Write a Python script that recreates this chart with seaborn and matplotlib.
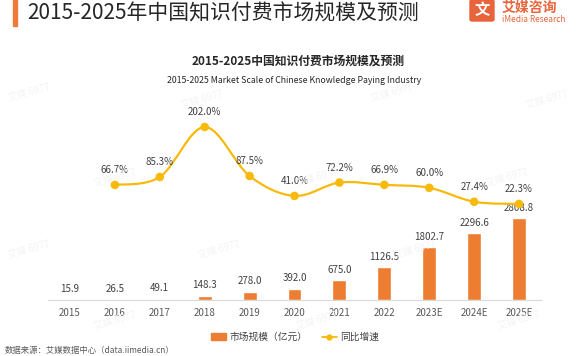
import numpy as np
import seaborn as sns
import matplotlib.pyplot as plt
from matplotlib.path import Path
from matplotlib.patches import PathPatch, Rectangle, FancyBboxPatch
from matplotlib.lines import Line2D
from matplotlib.patches import Patch

years = ['2015', '2016', '2017', '2018', '2019', '2020', '2021', '2022', '2023E', '2024E', '2025E']
market = [15.9, 26.5, 49.1, 148.3, 278.0, 392.0, 675.0, 1126.5, 1802.7, 2296.6, 2808.8]
growth_years = years[1:]
growth = [66.7, 85.3, 202.0, 87.5, 41.0, 72.2, 66.9, 60.0, 27.4, 22.3]

bar_color = '#ED7D31'
line_color = '#F7BA0B'
text_color = '#404040'

sns.set_style('white')
plt.rcParams['font.family'] = ['Noto Sans CJK SC', 'DejaVu Sans']

fig = plt.figure(figsize=(5.76, 3.56), dpi=100)
ax = fig.add_axes([0.0825, 0.1573, 0.8576, 0.5618])

# bars
sns.barplot(x=years, y=market, color=bar_color, width=0.31, ax=ax, saturation=1)
ax.set_xlim(-0.5, 10.5)
ax.set_ylim(0, 6849)
for i, v in enumerate(market):
    ax.annotate(f'{v:.1f}', (i, v), xytext=(0, 7.5), textcoords='offset points',
                ha='center', va='center', fontsize=7, color=text_color)

for s in ['top', 'right', 'left']:
    ax.spines[s].set_visible(False)
ax.spines['bottom'].set_color('#D9D9D9')
ax.spines['bottom'].set_linewidth(0.8)
ax.set_yticks([])
ax.tick_params(axis='x', length=0, pad=6, labelsize=7, labelcolor='#595959')

# growth line on second axis
ax2 = ax.twinx()
ax2.set_ylim(-202, 265)
ax2.set_yticks([])
for s in ax2.spines.values():
    s.set_visible(False)

# smoothed line through the points (bezier segments)
gx = [years.index(y) for y in growth_years]
pts = list(zip(gx, growth))
verts = [pts[0]]
codes = [Path.MOVETO]
for i in range(len(pts) - 1):
    p0 = np.array(pts[i - 1] if i > 0 else pts[i])
    p1 = np.array(pts[i])
    p2 = np.array(pts[i + 1])
    p3 = np.array(pts[i + 2] if i + 2 < len(pts) else pts[i + 1])
    c1 = p1 + (p2 - p0) / 6
    c2 = p2 - (p3 - p1) / 6
    verts += [tuple(c1), tuple(c2), tuple(p2)]
    codes += [Path.CURVE4] * 3
ax2.add_patch(PathPatch(Path(verts, codes), fill=False, edgecolor=line_color, lw=1.6))
sns.scatterplot(x=gx, y=growth, ax=ax2, color=line_color, s=38, edgecolor='none', zorder=3)
ax2.set_xlim(-0.5, 10.5)
for x, v in zip(gx, growth):
    ax2.annotate(f'{v:.1f}%', (x, v), xytext=(0, 10.5), textcoords='offset points',
                 ha='center', va='center', fontsize=7, color=text_color)

# legend
handles = [Patch(color=bar_color),
           Line2D([0], [0], color=line_color, marker='o', markersize=3.5, lw=1.3)]
fig.legend(handles, ['市场规模（亿元）', '同比增速'], loc='center', bbox_to_anchor=(0.512, 0.0534),
           ncol=2, frameon=False, fontsize=7, handlelength=1.6, handleheight=0.7,
           columnspacing=1.5, handletextpad=0.3, labelcolor=text_color)

# titles
fig.text(27 / 576, 337 / 356, '2015-2025年中国知识付费市场规模及预测', fontsize=15,
         color='#262626', va='baseline', ha='left')
fig.patches.append(Rectangle((13 / 576, 330 / 356), 4 / 576, 26 / 356,
                             transform=fig.transFigure, color='#F07A3C', figure=fig))
fig.patches.append(FancyBboxPatch((470 / 576, 335 / 356), 24 / 576, 21 / 356,
                                  boxstyle='round,pad=0,rounding_size=0.004',
                                  transform=fig.transFigure, color='#E8643C', figure=fig))
fig.text(482 / 576, 346 / 356, '文', fontsize=11, color='white', weight='bold',
         ha='center', va='center')
fig.text(502 / 576, 344 / 356, '艾媒咨询', fontsize=10, color='#E8643C', weight='bold',
         ha='left', va='baseline')
fig.text(502 / 576, 337 / 356, 'iMedia Research', fontsize=6, color='#E8643C',
         ha='left', va='center')

fig.text(298 / 576, 0.8287, '2015-2025中国知识付费市场规模及预测', fontsize=8.5,
         weight='bold', color='#262626', ha='center', va='center')
fig.text(294 / 576, 0.7725, '2015-2025 Market Scale of Chinese Knowledge Paying Industry',
         fontsize=6.3, color='#262626', ha='center', va='center')
fig.text(5 / 576, 6 / 356, '数据来源：艾媒数据中心（data.iimedia.cn）', fontsize=6,
         color='#595959', ha='left', va='center')

# faint watermarks
for wx, wy in [(0.05, 0.74), (0.35, 0.72), (0.68, 0.74), (0.95, 0.72),
               (0.2, 0.5), (0.55, 0.5), (0.88, 0.5), (0.05, 0.3), (0.38, 0.3),
               (0.72, 0.3), (0.2, 0.1), (0.55, 0.1), (0.9, 0.1)]:
    fig.text(wx, wy, '艾媒 6977', fontsize=7, color='#F4F4F4', rotation=15,
             ha='center', va='center', zorder=0)

fig.savefig('out.png', dpi=100)
